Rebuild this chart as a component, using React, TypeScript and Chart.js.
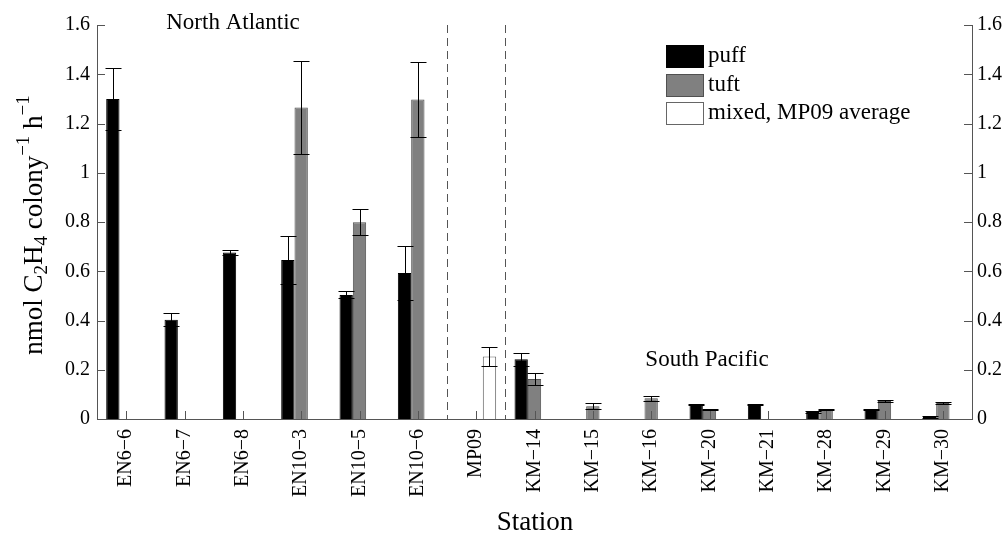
import React, { useEffect, useRef } from "react";
import { Chart, registerables } from "chart.js";
Chart.register(...registerables);

const stations = ["EN6−6", "EN6−7", "EN6−8", "EN10−3", "EN10−5", "EN10−6", "MP09", "KM−14", "KM−15", "KM−16", "KM−20", "KM−21", "KM−28", "KM−29", "KM−30"];
const puff = [1.30, 0.403, 0.676, 0.646, 0.504, 0.593, null, 0.243, null, null, 0.058, 0.058, 0.028, 0.039, 0.008];
const puffErr = [0.125, 0.027, 0.011, 0.099, 0.014, 0.11, null, 0.027, null, null, 0.003, 0.003, 0.003, 0.003, 0.003];
const tuft = [null, null, null, 1.265, 0.799, 1.297, null, 0.162, 0.052, 0.084, 0.039, null, 0.039, 0.073, 0.065];
const tuftErr = [null, null, null, 0.19, 0.052, 0.153, null, 0.024, 0.013, 0.01, 0.003, null, 0.003, 0.005, 0.003];
const mixed = [null, null, null, null, null, null, 0.254, null, null, null, null, null, null, null, null];
const mixedErr = [null, null, null, null, null, null, 0.038, null, null, null, null, null, null, null, null];
const seriesNames = ["puff", "tuft", "mixed, MP09 average"];
const yMin = 0;
const yMax = 1.6;
const yStep = 0.2;
const regionNotes = ["North Atlantic", "South Pacific"];
const dividerAfter = [5, 6];

const FONT = "'Liberation Serif', 'Times New Roman', serif";
const AXIS = "#555555";

const errorBars = {
  id: "errorBars",
  afterDatasetsDraw(chart: any) {
    const ctx = chart.ctx;
    const ys = chart.scales.y;
    chart.data.datasets.forEach((ds: any, di: number) => {
      const meta = chart.getDatasetMeta(di);
      meta.data.forEach((bar: any, i: number) => {
        const v = ds.data[i];
        const e = ds.errors[i];
        if (v == null || e == null) return;
        const x = Math.round(bar.x) + 0.5;
        const yt = Math.round(ys.getPixelForValue(v + e)) + 0.5;
        const yb = Math.round(ys.getPixelForValue(Math.max(0, v - e))) + 0.5;
        ctx.save();
        ctx.strokeStyle = "#000";
        ctx.lineWidth = 1;
        ctx.beginPath();
        ctx.moveTo(x, yt);
        ctx.lineTo(x, yb);
        ctx.moveTo(x - 8, yt);
        ctx.lineTo(x + 8, yt);
        ctx.moveTo(x - 8, yb);
        ctx.lineTo(x + 8, yb);
        ctx.stroke();
        ctx.restore();
      });
    });
  },
};

const decorations = {
  id: "decorations",
  afterDraw(chart: any) {
    const ctx = chart.ctx;
    const ca = chart.chartArea;
    const xs = chart.scales.x;
    const ys = chart.scales.y;
    ctx.save();
    // inward ticks
    ctx.strokeStyle = AXIS;
    ctx.lineWidth = 1;
    ctx.beginPath();
    for (let v = yMin; v <= yMax + 1e-9; v += yStep) {
      const py = Math.round(ys.getPixelForValue(v)) + 0.5;
      ctx.moveTo(ca.left, py);
      ctx.lineTo(ca.left + 8, py);
      ctx.moveTo(ca.right, py);
      ctx.lineTo(ca.right - 8, py);
    }
    stations.forEach((_, i) => {
      const px = Math.round(xs.getPixelForValue(i)) + 0.5;
      ctx.moveTo(px, ca.bottom);
      ctx.lineTo(px, ca.bottom - 8);
    });
    ctx.stroke();
    // dashed dividers
    ctx.setLineDash([8, 5]);
    ctx.beginPath();
    dividerAfter.forEach((i) => {
      const px = Math.round((xs.getPixelForValue(i) + xs.getPixelForValue(i + 1)) / 2) + 0.5;
      ctx.moveTo(px, ca.top);
      ctx.lineTo(px, ca.bottom);
    });
    ctx.stroke();
    ctx.setLineDash([]);

    // region notes
    ctx.fillStyle = "#000";
    ctx.font = `23px ${FONT}`;
    ctx.textAlign = "center";
    ctx.textBaseline = "alphabetic";
    ctx.fillText(regionNotes[0], 233, 29);
    ctx.fillText(regionNotes[1], 707, 366);

    // legend
    const colors = [
      { bg: "#000000", bd: "#000000" },
      { bg: "#808080", bd: "#505050" },
      { bg: "#ffffff", bd: "#666666" },
    ];
    ctx.font = `23px ${FONT}`;
    ctx.textAlign = "left";
    ctx.textBaseline = "middle";
    const tops = [45, 74, 102];
    seriesNames.forEach((name, i) => {
      const t = tops[i];
      ctx.fillStyle = colors[i].bg;
      ctx.fillRect(666, t, 37, 22);
      ctx.strokeStyle = colors[i].bd;
      ctx.strokeRect(666.5, t + 0.5, 37, 22);
      ctx.fillStyle = "#000";
      ctx.fillText(name, 708, t + 11);
    });

    // x title
    ctx.font = `27px ${FONT}`;
    ctx.textAlign = "center";
    ctx.textBaseline = "alphabetic";
    ctx.fillText("Station", 535, 530);

    // y title with sub/superscripts
    const big = `27px ${FONT}`;
    const small = `19px ${FONT}`;
    const parts: [string, string, number][] = [
      ["nmol C", big, 0],
      ["2", small, 5],
      ["H", big, 0],
      ["4", small, 5],
      [" colony", big, 0],
      ["−1", small, -13],
      [" h", big, 0],
      ["−1", small, -13],
    ];
    let total = 0;
    parts.forEach(([t, f]) => {
      ctx.font = f;
      total += ctx.measureText(t).width;
    });
    ctx.translate(42, 225);
    ctx.rotate(-Math.PI / 2);
    let cx = -total / 2;
    ctx.textAlign = "left";
    parts.forEach(([t, f, dy]) => {
      ctx.font = f;
      ctx.fillText(t, cx, dy);
      cx += ctx.measureText(t).width;
    });
    ctx.restore();
  },
};

export default function App() {
  const ref = useRef<HTMLCanvasElement | null>(null);
  useEffect(() => {
    if (!ref.current) return;
    const tickFont = { family: FONT, size: 20 };
    const fmt = (v: any) => String(Number(Number(v).toFixed(1)));
    const chart = new Chart(ref.current, {
      type: "bar",
      data: {
        labels: stations,
        datasets: [
          { label: seriesNames[0], data: puff, errors: puffErr, backgroundColor: "#000000", borderColor: "#000000", borderWidth: 1 } as any,
          { label: seriesNames[1], data: tuft, errors: tuftErr, backgroundColor: "#808080", borderColor: "#505050", borderWidth: 1 } as any,
          { label: seriesNames[2], data: mixed, errors: mixedErr, backgroundColor: "#ffffff", borderColor: "#666666", borderWidth: 1 } as any,
        ],
      },
      options: {
        responsive: false,
        animation: false,
        layout: { padding: { top: 25, left: 0, right: 0, bottom: 0 } },
        datasets: { bar: { categoryPercentage: 0.685, barPercentage: 1.0 } },
        plugins: { legend: { display: false }, tooltip: { enabled: false } },
        scales: {
          x: {
            offset: true,
            grid: { display: false, drawTicks: false },
            border: { display: true, color: AXIS, width: 1 },
            ticks: { font: tickFont, color: "#000", minRotation: 90, maxRotation: 90, padding: 10, autoSkip: false },
            afterFit: (s: any) => { s.height = 114; },
          },
          y: {
            position: "left",
            min: yMin,
            max: yMax,
            grid: { display: false, drawTicks: false },
            border: { display: true, color: AXIS, width: 1 },
            ticks: { stepSize: yStep, font: tickFont, color: "#000", padding: 7, callback: fmt },
            afterFit: (s: any) => { s.width = 97; },
          },
          y2: {
            position: "right",
            min: yMin,
            max: yMax,
            grid: { display: false, drawTicks: false },
            border: { display: true, color: AXIS, width: 1 },
            ticks: { stepSize: yStep, font: tickFont, color: "#000", padding: 5, callback: fmt },
            afterFit: (s: any) => { s.width = 34; },
          },
        },
      } as any,
      plugins: [errorBars, decorations],
    });
    return () => chart.destroy();
  }, []);
  return (
    <div style={{ position: "absolute", left: 0, top: 0, width: 1006, height: 533, background: "#fff" }}>
      <canvas ref={ref} width={1006} height={533} style={{ display: "block" }} />
    </div>
  );
}
